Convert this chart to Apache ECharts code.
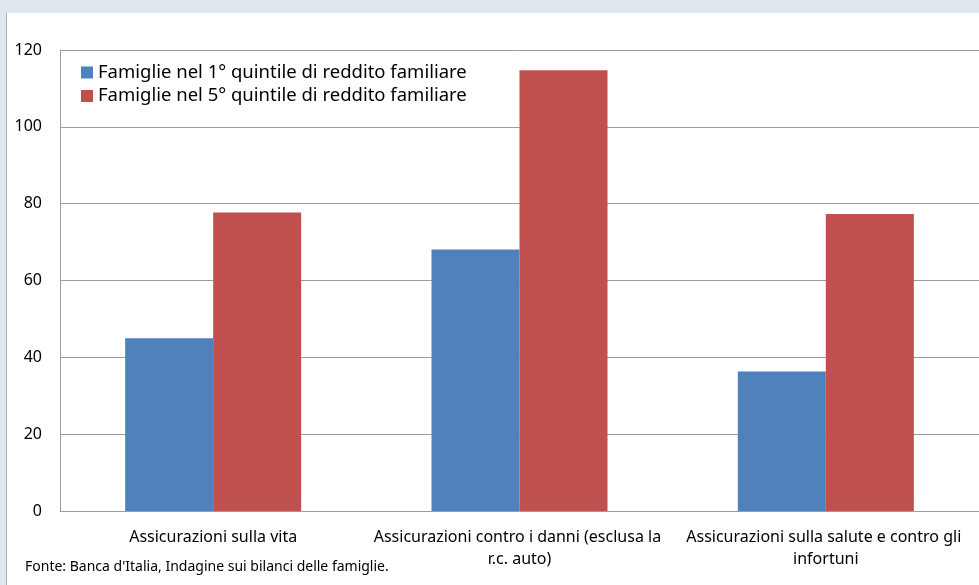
<!DOCTYPE html>
<html>
<head>
<meta charset="utf-8">
<script src="https://cdn.jsdelivr.net/npm/echarts@6/dist/echarts.min.js"></script>
<style>
html,body{margin:0;padding:0;background:#dde8f1;}
#chart{width:979px;height:585px;}
</style>
</head>
<body>
<div id="chart"></div>
<script>
const categories = [
  "Assicurazioni sulla vita",
  "Assicurazioni contro i danni (esclusa la r.c. auto)",
  "Assicurazioni sulla salute e contro gli infortuni"
];
const seriesNames = [
  "Famiglie nel 1° quintile di reddito familiare",
  "Famiglie nel 5° quintile di reddito familiare"
];
const quintile1 = [45.0, 68.1, 36.3];
const quintile5 = [77.7, 114.7, 77.3];
const yTicks = { min: 0, max: 120, interval: 20 };
const sourceNote = "Fonte: Banca d'Italia, Indagine sui bilanci delle famiglie.";

const FONT = "Noto Sans";
const chart = echarts.init(document.getElementById('chart'), null, { renderer: 'canvas' });
chart.setOption({
  animation: false,
  backgroundColor: '#dde8f1',
  textStyle: { fontFamily: FONT },
  graphic: [
    { type: 'rect', z: -10, shape: { x: 7, y: 13, width: 972, height: 572 }, style: { fill: '#ffffff' } },
    { type: 'line', z: -9, shape: { x1: 6.5, y1: 13, x2: 6.5, y2: 585 }, style: { stroke: '#b0b0b0', lineWidth: 1 } },
    { type: 'text', left: 25, top: 560, style: { text: sourceNote, font: '14px "Noto Sans"', fill: '#000000' } }
  ],
  legend: {
    orient: 'vertical',
    left: 81,
    top: 63,
    padding: 0,
    itemWidth: 12,
    itemHeight: 12,
    itemGap: 4.5,
    icon: 'rect',
    textStyle: { fontFamily: FONT, fontSize: 18.5, lineHeight: 18.5, color: '#000000' },
    data: seriesNames
  },
  grid: { left: 60, top: 50, width: 920, height: 461, containLabel: false },
  xAxis: {
    type: 'category',
    data: categories,
    axisLine: { show: true, lineStyle: { color: '#9d9d9d', width: 1 } },
    axisTick: { show: false },
    axisLabel: {
      color: '#000000', fontFamily: FONT, fontSize: 16, lineHeight: 22,
      margin: 15, width: 300, overflow: 'break', interval: 0
    }
  },
  yAxis: {
    type: 'value',
    min: yTicks.min, max: yTicks.max, interval: yTicks.interval,
    axisLine: { show: true, lineStyle: { color: '#9d9d9d', width: 1 } },
    axisTick: { show: false },
    axisLabel: { color: '#000000', fontFamily: FONT, fontSize: 16, margin: 18 },
    splitLine: { show: true, lineStyle: { color: '#9d9d9d', width: 1 } }
  },
  series: [
    { name: seriesNames[0], type: 'bar', data: quintile1, barWidth: 88, barGap: '0%', itemStyle: { color: '#4f81bd' } },
    { name: seriesNames[1], type: 'bar', data: quintile5, barWidth: 88, barGap: '0%', itemStyle: { color: '#c0504d' } }
  ]
});
</script>
</body>
</html>
